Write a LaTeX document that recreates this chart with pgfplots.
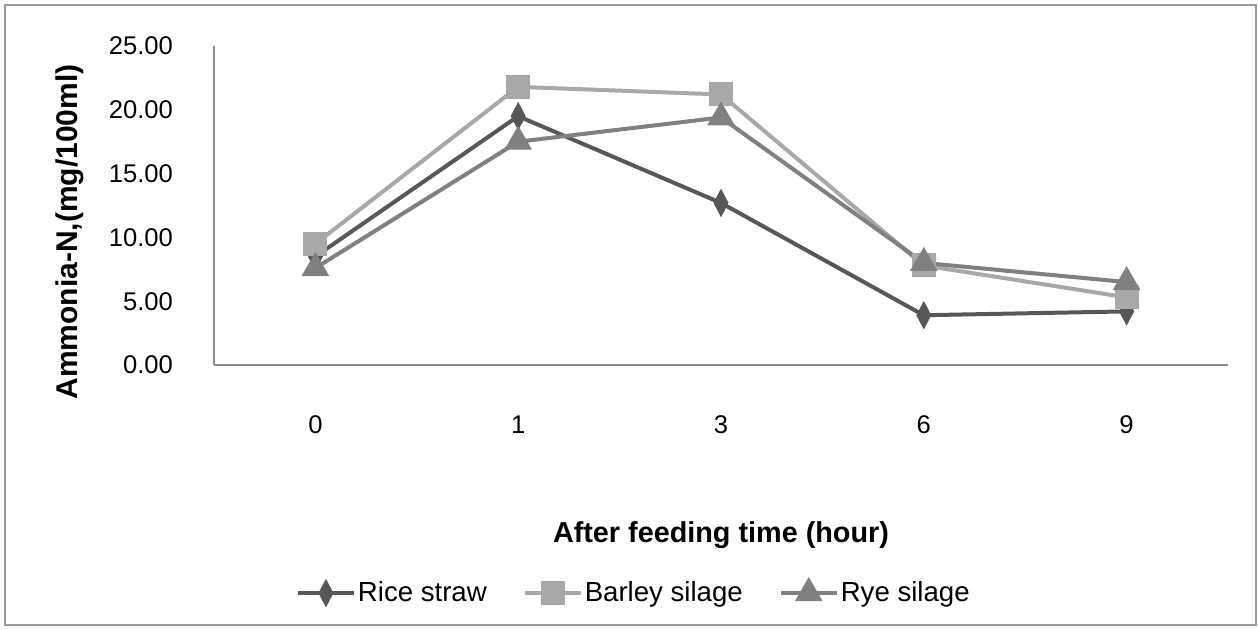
\documentclass[border=0pt]{standalone}
\usepackage{fontspec}
\setmainfont{Liberation Sans}
\usepackage{pgfplots}
\pgfplotsset{compat=1.18}

\definecolor{riceC}{HTML}{575757}
\definecolor{barleyC}{HTML}{A8A8A8}
\definecolor{ryeC}{HTML}{808080}
\definecolor{axisC}{HTML}{8C8C8C}
\definecolor{frameC}{HTML}{9A9A9A}

\begin{document}
\begin{tikzpicture}[x=0.5pt,y=0.5pt]
\path[use as bounding box] (0,0) rectangle (1258,630);
\draw[frameC, line width=1pt] (5,5) rectangle (1256,625);
\begin{axis}[
  at={(107pt,132.5pt)}, anchor=south west,
  scale only axis, width=507pt, height=159.5pt,
  xmin=-0.5, xmax=4.5, ymin=0, ymax=25,
  axis x line*=bottom, axis y line*=left,
  axis line style={axisC, line width=1pt},
  major tick length=0pt,
  xtick={0,1,2,3,4}, xticklabels={0,1,3,6,9},
  ytick={0,5,10,15,20,25},
  /pgf/number format/assume math mode=true,
  yticklabel={\pgfmathprintnumber[fixed,fixed zerofill,precision=2]{\tick}},
  tick label style={font=\fontsize{12.8}{15}\selectfont, text=black},
  yticklabel style={anchor=east, xshift=-17pt},
  xticklabel style={anchor=north, yshift=-22pt},
  xlabel={After feeding time (hour)},
  xlabel style={at={(axis description cs:0.5,0)}, anchor=center, yshift=-85pt,
    font=\bfseries\fontsize{14.4}{16}\selectfont},
  ylabel={Ammonia-N,(mg/100ml)},
  ylabel style={at={(axis description cs:-0.142,0.417)}, anchor=center, rotate=0,
    font=\bfseries\fontsize{15}{17}\selectfont},
  legend columns=3,
  legend style={at={(axis description cs:0.415,-0.715)}, anchor=center, draw=none,
    font=\fontsize{13.8}{16}\selectfont,
    /tikz/every odd column/.append style={column sep=-1pt},
    /tikz/every even column/.append style={column sep=16pt}},
  legend image code/.code={
    \draw[mark repeat=2,mark phase=2] plot coordinates {(0pt,0pt) (14pt,0pt) (28pt,0pt)};},
  every axis plot/.append style={line width=2pt},
]
\addplot[riceC, mark=diamond*, mark size=5pt, mark options={xscale=0.7, solid}]
  coordinates {(0,8.5) (1,19.5) (2,12.7) (3,3.9) (4,4.2)};
\addlegendentry{Rice straw}
\addplot[barleyC, mark=square*, mark size=5pt, mark options={solid}]
  coordinates {(0,9.5) (1,21.8) (2,21.2) (3,7.8) (4,5.3)};
\addlegendentry{Barley silage}
\addplot[ryeC, mark=triangle*, mark size=6pt, mark options={solid}]
  coordinates {(0,7.6) (1,17.5) (2,19.4) (3,8.0) (4,6.5)};
\addlegendentry{Rye silage}
\end{axis}
\end{tikzpicture}
\end{document}
